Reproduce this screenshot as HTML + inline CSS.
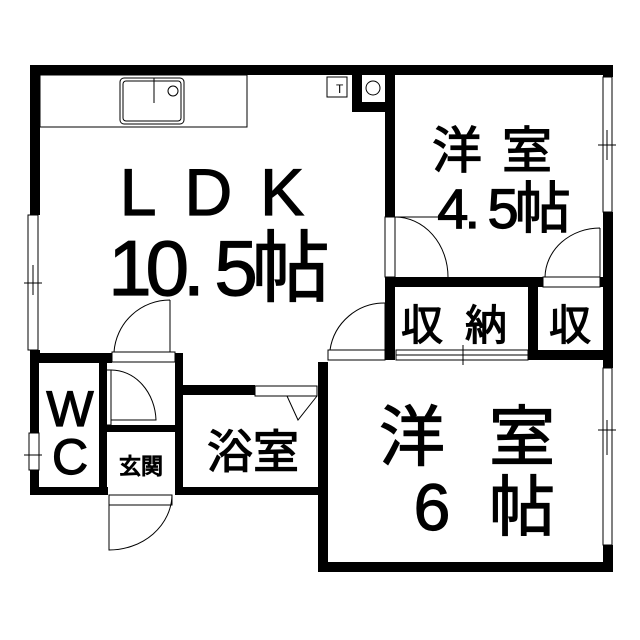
<!DOCTYPE html>
<html><head><meta charset="utf-8"><style>
html,body{margin:0;padding:0;background:#fff}
svg{display:block}
text{font-family:"Liberation Sans","Noto Sans CJK JP",sans-serif;fill:#000;stroke:#000;stroke-width:1.2}
</style></head><body>
<svg width="640" height="640" viewBox="0 0 640 640" xmlns="http://www.w3.org/2000/svg">
<g fill="#000">
<rect x="30" y="65" width="583" height="10"/>
<rect x="30" y="65" width="10" height="150"/>
<rect x="30" y="350" width="10" height="13"/>
<rect x="30" y="353" width="82" height="10"/>
<rect x="175" y="353" width="8" height="142"/>
<rect x="385" y="65" width="10" height="152"/>
<rect x="385" y="277" width="10" height="83"/>
<rect x="603" y="65" width="10" height="12"/>
<rect x="603" y="212" width="10" height="156"/>
<rect x="603" y="545" width="10" height="27"/>
<rect x="385" y="277" width="158" height="10"/>
<rect x="600" y="277" width="13" height="10"/>
<rect x="528" y="287" width="10" height="73"/>
<rect x="528" y="350" width="85" height="10"/>
<rect x="318" y="362" width="10" height="210"/>
<rect x="318" y="562" width="295" height="10"/>
<rect x="30" y="363" width="9" height="70"/>
<rect x="30" y="470" width="9" height="25"/>
<rect x="30" y="487" width="78" height="8"/>
<rect x="99" y="363" width="8" height="132"/>
<rect x="107" y="425" width="70" height="7"/>
<rect x="183" y="385" width="72" height="10"/>
<rect x="183" y="487" width="140" height="8"/>
<rect x="352" y="75" width="33" height="37"/>
<rect x="362" y="75" width="23" height="27" fill="#fff"/>
</g>
<g fill="none" stroke="#000" stroke-width="1">
<rect x="28" y="215" width="10" height="135"/><line x1="33" y1="265" x2="33" y2="295"/><line x1="24" y1="283" x2="42" y2="283"/>
<rect x="603" y="77" width="9" height="135"/><line x1="607" y1="130" x2="607" y2="160"/><line x1="598" y1="145" x2="616" y2="145"/>
<rect x="603" y="368" width="9" height="177"/><line x1="607" y1="420" x2="607" y2="455"/><line x1="598" y1="430" x2="616" y2="430"/>
<rect x="29" y="433" width="10" height="37"/><line x1="24" y1="455" x2="42" y2="455"/>
<rect x="396" y="350" width="132" height="10"/><line x1="396" y1="355" x2="528" y2="355"/><line x1="463" y1="345" x2="463" y2="365"/>
<rect x="40" y="75" width="207" height="52"/>
<rect x="120" y="78" width="64" height="46" rx="4"/><rect x="123" y="81" width="58" height="40" rx="3"/>
<circle cx="173" cy="91" r="5"/><line x1="154" y1="78" x2="154" y2="103"/>
<rect x="327" y="77" width="20" height="20"/>
<circle cx="373" cy="88" r="7"/>
<rect x="112" y="352" width="63" height="10"/><path d="M170 300 V352 M114 352 A56 56 0 0 1 170 300"/>
<rect x="328" y="350" width="57" height="10"/><path d="M385 303 V350 M330 350 A55 55 0 0 1 385 303"/>
<rect x="385" y="217" width="10" height="60"/><path d="M395 217 H448 M448 277 A53 60 0 0 0 395 217"/>
<rect x="543" y="277" width="57" height="10"/><path d="M600 228 V277 M545 277 A55 50 0 0 1 600 228"/>
<rect x="101" y="370" width="10" height="55"/><path d="M111 370 A45 52 0 0 1 156 420 H111"/>
<rect x="255" y="386" width="62" height="10"/><path d="M287 396 L298 420 L317 396"/>
<rect x="109" y="495" width="63" height="10"/><path d="M109 505 V550 A63 56 0 0 0 172 495"/>
</g>
<text x="336" y="93" font-size="12" style="stroke:none">T</text>
<text x="226" y="215" font-size="66" text-anchor="middle" letter-spacing="28">LDK</text>
<text x="216" y="295" font-size="78" text-anchor="middle" letter-spacing="-6">10. 5帖</text>
<text x="502" y="168" font-size="50" text-anchor="middle" letter-spacing="20">洋室</text>
<text x="502" y="228" font-size="56" text-anchor="middle" letter-spacing="-4">4. 5帖</text>
<text x="465" y="340" font-size="42" text-anchor="middle" letter-spacing="22">収納</text>
<text x="570" y="340" font-size="42" text-anchor="middle">収</text>
<text x="412" y="460" font-size="66" text-anchor="middle">洋</text>
<text x="522" y="460" font-size="66" text-anchor="middle">室</text>
<text x="432" y="530" font-size="66" text-anchor="middle">6</text>
<text x="522" y="530" font-size="66" text-anchor="middle">帖</text>
<text x="253" y="468" font-size="46" text-anchor="middle">浴室</text>
<text x="141" y="474" font-size="22" text-anchor="middle">玄関</text>
<text x="70" y="426" font-size="50" text-anchor="middle">W</text>
<text x="70" y="474" font-size="50" text-anchor="middle">C</text>
</svg>
</body></html>
